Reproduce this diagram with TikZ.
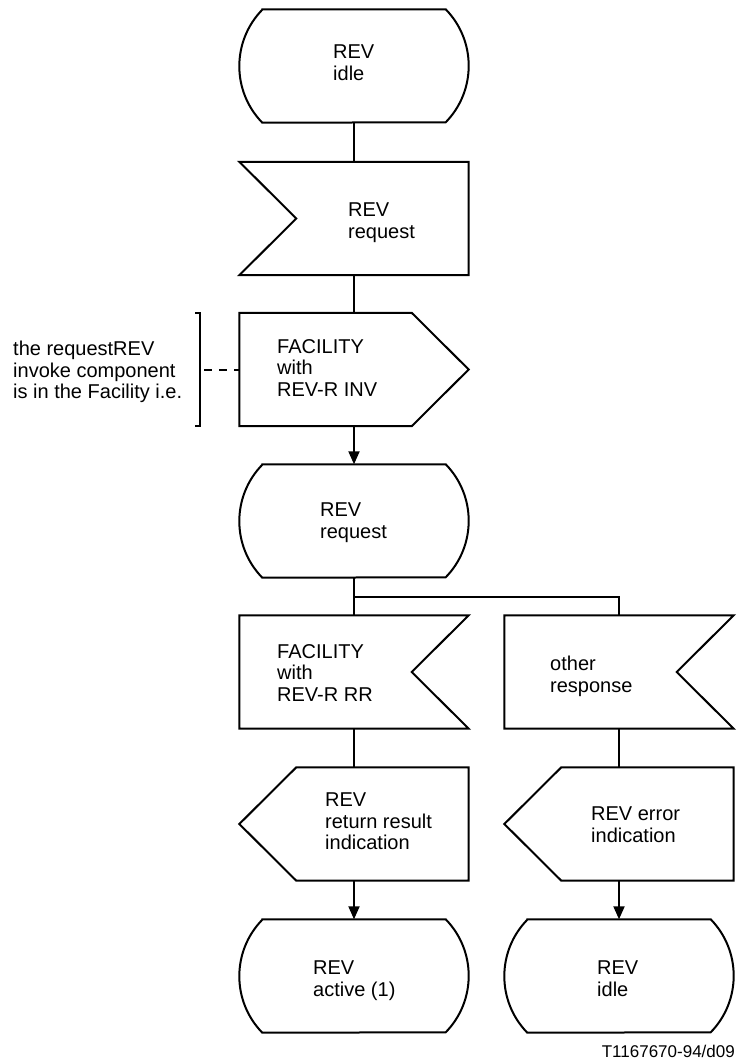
\documentclass[tikz,border=0pt]{standalone}
\usepackage{fontspec}
\setmainfont{Liberation Sans}
\usetikzlibrary{arrows.meta,calc}
\tikzset{
  box/.style={rectangle, draw=none, inner sep=0pt, minimum width=229pt, minimum height=113pt},
  outline/.style={draw=black, line width=2pt, line join=miter},
  conn/.style={line width=2pt},
  arr/.style={conn, -{Triangle[length=13pt,width=11pt]}},
  txt/.style={anchor=north west, inner sep=0pt, align=left, font=\fontsize{20pt}{21.5pt}\selectfont},
}
\newcommand\drawstate[1]{%
  \draw[outline] ([xshift=23pt]#1.north west) -- ([xshift=-23pt]#1.north east)
    arc[start angle=44.3,end angle=-44.3,radius=80.9pt] -- ([xshift=23pt]#1.south west)
    arc[start angle=224.3,end angle=135.7,radius=80.9pt] -- cycle;}
\newcommand\drawinleft[1]{%
  \draw[outline] (#1.north west) -- (#1.north east) -- (#1.south east) -- (#1.south west)
    -- ([xshift=57pt]#1.west) -- cycle;}
\newcommand\drawinright[1]{%
  \draw[outline] (#1.north west) -- (#1.north east) -- ([xshift=-57pt]#1.east)
    -- (#1.south east) -- (#1.south west) -- cycle;}
\newcommand\drawoutright[1]{%
  \draw[outline] (#1.north west) -- ([xshift=-57pt]#1.north east) -- (#1.east)
    -- ([xshift=-57pt]#1.south east) -- (#1.south west) -- cycle;}
\newcommand\drawoutleft[1]{%
  \draw[outline] ([xshift=57pt]#1.north west) -- (#1.north east) -- (#1.south east)
    -- ([xshift=57pt]#1.south west) -- (#1.west) -- cycle;}
\begin{document}
\begin{tikzpicture}[x=1pt,y=1pt]
\useasboundingbox[fill=white] (0,0) rectangle (738,-1064);
% shape nodes
\node[box] (s1) at (354,-66) {};
\node[box] (in1) at (354,-218.5) {};
\node[box] (out1) at (354,-369.5) {};
\node[box] (s2) at (354,-521) {};
\node[box] (in2) at (354,-672) {};
\node[box] (in3) at (619,-672) {};
\node[box] (out2) at (354,-824) {};
\node[box] (out3) at (619,-824) {};
\node[box] (s3) at (354,-976) {};
\node[box] (s4) at (619,-976) {};
\drawstate{s1}
\drawinleft{in1}
\drawoutright{out1}
\drawstate{s2}
\drawinright{in2}
\drawinright{in3}
\drawoutleft{out2}
\drawoutleft{out3}
\drawstate{s3}
\drawstate{s4}
% texts
\node[txt] (t1) at (333,-45) {REV\\idle};
\node[txt] (t2) at (348,-203) {REV\\request};
\node[txt] (t3) at (277,-339) {FACILITY\\with\\REV-R INV};
\node[txt] (ann) at (13,-341) {the requestREV\\invoke component\\is in the Facility i.e.};
\node[txt] (t4) at (320,-503) {REV\\request};
\node[txt] (t5) at (277,-644) {FACILITY\\with\\REV-R RR};
\node[txt] (t6) at (550,-656) {other\\response};
\node[txt] (t7) at (325,-793) {REV\\return result\\indication};
\node[txt] (t8) at (591,-807) {REV error\\indication};
\node[txt] (t9) at (313,-961) {REV\\active (1)};
\node[txt] (t10) at (597,-961) {REV\\idle};
\node[anchor=base east, inner sep=0pt, font=\fontsize{17pt}{20pt}\selectfont] (foot) at (735,-1057) {T1167670-94/d09};
% connectors
\draw[conn] (s1.south) -- (in1.north);
\draw[conn] (in1.south) -- (out1.north);
\draw[arr] (out1.south) -- (s2.north);
\draw[conn] (s2.south) -- (in2.north);
\coordinate (br) at ($(s2.south)+(0,-19)$);
\draw[conn] (br) -| (in3.north);
\draw[conn] (in2.south) -- (out2.north);
\draw[conn] (in3.south) -- (out3.north);
\draw[arr] (out2.south) -- (s3.north);
\draw[arr] (out3.south) -- (s4.north);
% comment bracket
\coordinate (brk) at (200,-369.5);
\draw[conn] (195,-313) -- (200,-313) -- (200,-426) -- (195,-426);
\draw[conn, dash pattern=on 8pt off 7pt, dash phase=-4pt] (brk) -- (out1.west);
\end{tikzpicture}
\end{document}
